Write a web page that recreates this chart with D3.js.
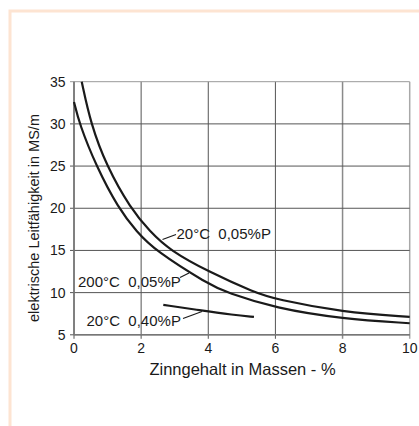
<!DOCTYPE html>
<html>
<head>
<meta charset="utf-8">
<script src="https://cdn.jsdelivr.net/npm/d3@7"></script>
<style>
  html, body { margin: 0; padding: 0; background: #fff; }
  svg { display: block; }
  text { font-family: "Liberation Sans", Arial, sans-serif; fill: #1a1a1a; }
</style>
</head>
<body>
<svg id="chart" width="419" height="426"></svg>
<script>
// Zinngehalt (x) and Leitfähigkeit (y) readings per curve
const curve20_005x = [0.23, 0.5, 0.97, 1.68, 2.26, 2.86, 4.0, 5.39, 6.0, 8.0, 10.0];
const curve20_005y = [35, 30, 25, 20, 17.25, 15, 12.5, 10, 9.22, 7.68, 7.12];
const curve200_005x = [0, 0.16, 0.66, 1.32, 1.87, 2.41, 4.0, 4.55, 6.0, 8.0, 10.0];
const curve200_005y = [32.6, 30, 25, 20, 17.2, 15, 11.0, 10, 8.15, 6.88, 6.37];
const curve20_040x = [2.66, 3.75, 4.75, 5.36];
const curve20_040y = [8.55, 7.9, 7.36, 7.12];

const xTicks = [0, 2, 4, 6, 8, 10];
const yTicks = [5, 10, 15, 20, 25, 30, 35];
const xTitle = "Zinngehalt in Massen - %";
const yTitle = "elektrische Leitfähigkeit in MS/m";
const curveLabels = ["20°C  0,05%P", "200°C  0,05%P", "20°C  0,40%P"];

const svg = d3.select("#chart");

// light frame along top and left edge
svg.append("path")
  .attr("d", "M10,426 V11 H419")
  .attr("fill", "none")
  .attr("stroke", "#fde4d2")
  .attr("stroke-width", 3);

const plotL = 74, plotR = 409.7, plotT = 81.7, plotB = 334.8;
const x = d3.scaleLinear().domain([0, 10]).range([plotL, plotR]);
const y = d3.scaleLinear().domain([5, 35]).range([plotB, plotT]);

// grid
const grid = svg.append("g");
grid.selectAll(".vg").data(xTicks).join("line")
  .attr("x1", d => x(d)).attr("x2", d => x(d))
  .attr("y1", plotT).attr("y2", plotB + 4)
  .attr("stroke", d => (d === 10 ? "#a8a8a8" : (d === 8 ? "#8a8a8a" : "#555")))
  .attr("stroke-width", d => (d === 10 || d === 8 ? 1.5 : 1));
grid.selectAll(".hg").data(yTicks).join("line")
  .attr("x1", plotL - 4).attr("x2", plotR)
  .attr("y1", d => y(d)).attr("y2", d => y(d))
  .attr("stroke", d => (d === 35 ? "#999" : "#555"))
  .attr("stroke-width", 1);

// axes lines
svg.append("line").attr("x1", plotL).attr("x2", plotL).attr("y1", plotT).attr("y2", plotB)
  .attr("stroke", "#777").attr("stroke-width", 1.6);
svg.append("line").attr("x1", plotL).attr("x2", plotR).attr("y1", plotB).attr("y2", plotB)
  .attr("stroke", "#777").attr("stroke-width", 1.6);

// tick labels
svg.selectAll(".xt").data(xTicks).join("text")
  .attr("x", d => x(d)).attr("y", plotB + 18.5)
  .attr("text-anchor", "middle").attr("font-size", 14)
  .text(d => d);
svg.selectAll(".yt").data(yTicks).join("text")
  .attr("x", plotL - 8.5).attr("y", d => y(d) + 5)
  .attr("text-anchor", "end").attr("font-size", 14)
  .text(d => d);

// axis titles
svg.append("text")
  .attr("x", 242.5).attr("y", 375)
  .attr("text-anchor", "middle").attr("font-size", 16.5)
  .text(xTitle);
svg.append("text")
  .attr("transform", "translate(38.5,218) rotate(-90)")
  .attr("text-anchor", "middle").attr("font-size", 14.5)
  .text(yTitle);

// curves, smoothed through the readings
const line = d3.line().x(d => x(d[0])).y(d => y(d[1])).curve(d3.curveBasis);
const series = [
  d3.zip(curve20_005x, curve20_005y),
  d3.zip(curve200_005x, curve200_005y),
  d3.zip(curve20_040x, curve20_040y)
];
svg.append("g").selectAll("path").data(series).join("path")
  .attr("d", line)
  .attr("fill", "none")
  .attr("stroke", "#1a1a1a")
  .attr("stroke-width", 2.2);

// curve labels with leader lines
const labelPos = [
  { tx: 176.5, ty: 239, lx1: 176, ly1: 234.5, lx2: 162.5, ly2: 239.5 },
  { tx: 78, ty: 286.5, lx1: 180, ly1: 277.5, lx2: 189, ly2: 273 },
  { tx: 86.5, ty: 326, lx1: 183, ly1: 318.5, lx2: 202, ly2: 311.5 }
];
labelPos.forEach((p, i) => {
  svg.append("line")
    .attr("x1", p.lx1).attr("y1", p.ly1).attr("x2", p.lx2).attr("y2", p.ly2)
    .attr("stroke", "#1a1a1a").attr("stroke-width", 1.2);
  svg.append("text")
    .attr("x", p.tx).attr("y", p.ty)
    .attr("font-size", 15)
    .style("white-space", "pre")
    .text(curveLabels[i]);
});
</script>
</body>
</html>
